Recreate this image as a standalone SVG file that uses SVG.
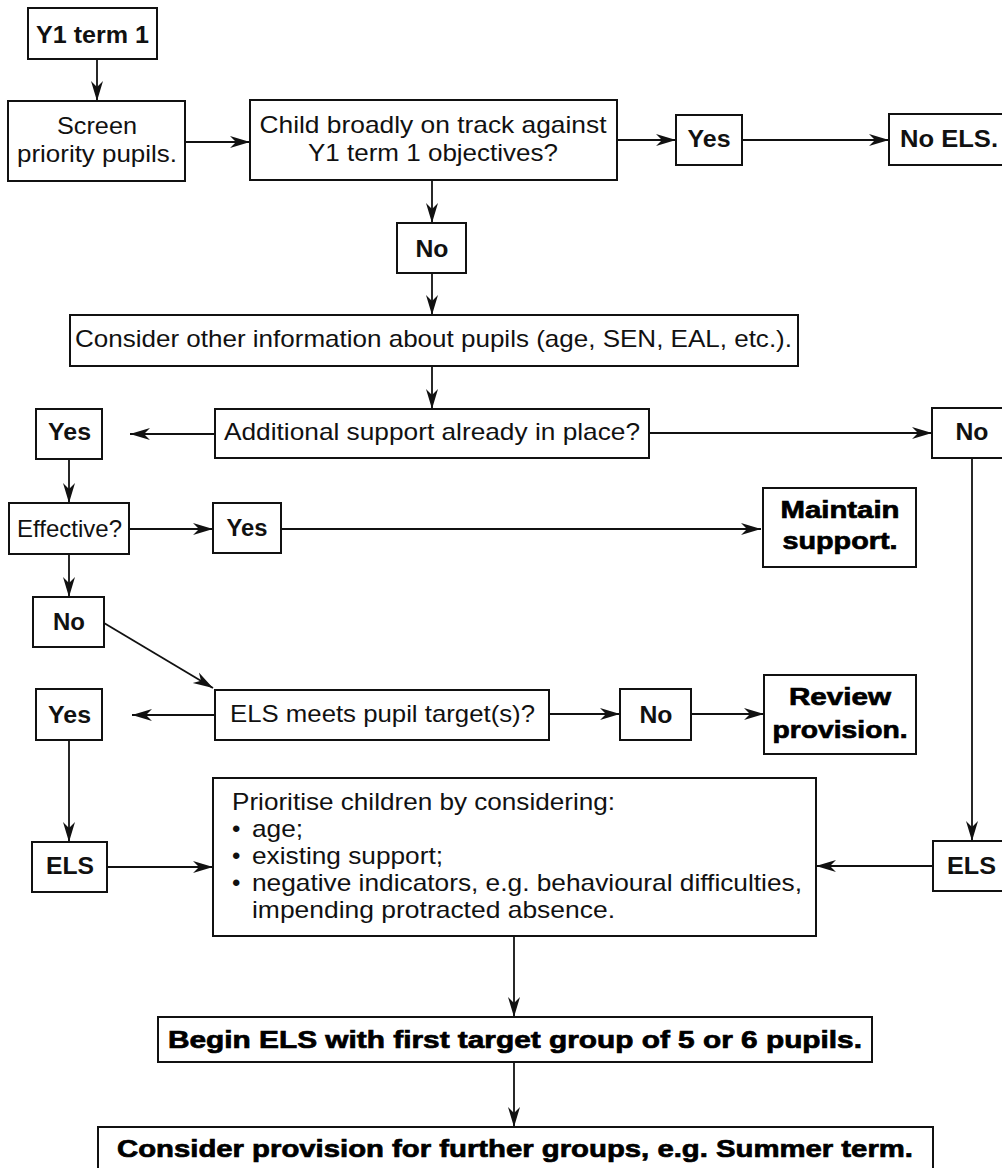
<svg xmlns="http://www.w3.org/2000/svg" width="1002" height="1168" viewBox="0 0 1002 1168">
<defs>
<style>
.box{fill:#fff;stroke:#111;stroke-width:2}
.ln{fill:none;stroke:#111;stroke-width:1.8}
.r{font-family:"Liberation Sans",Arial,sans-serif;font-size:24px;fill:#111}
.b{font-family:"Liberation Sans",Arial,sans-serif;font-size:23px;font-weight:bold;fill:#111}
.k{font-family:"Liberation Sans",Arial,sans-serif;font-size:24px;font-weight:bold;fill:#000;stroke:#000;stroke-width:0.7}
.c{text-anchor:middle}
</style>
<marker id="ah" markerUnits="userSpaceOnUse" markerWidth="22" markerHeight="14" refX="20" refY="7" orient="auto">
<path d="M0,1 L20,7 L0,13 L6,7 z" fill="#111"/>
</marker>
</defs>
<rect width="1002" height="1168" fill="#fff"/>

<g id="connectors" class="ln" marker-end="url(#ah)">
<line x1="97" y1="59" x2="97" y2="101"/>
<line x1="185" y1="142" x2="250" y2="142"/>
<line x1="617" y1="140" x2="676" y2="140"/>
<line x1="742" y1="140" x2="889" y2="140"/>
<line x1="432" y1="180" x2="432" y2="223"/>
<line x1="432" y1="273" x2="432" y2="315"/>
<line x1="432" y1="366" x2="432" y2="409"/>
<line x1="215" y1="434" x2="130" y2="434"/>
<line x1="649" y1="433" x2="932" y2="433"/>
<line x1="69" y1="459" x2="69" y2="503"/>
<line x1="129" y1="529" x2="213" y2="529"/>
<line x1="281" y1="529" x2="761" y2="529"/>
<line x1="69" y1="554" x2="69" y2="597"/>
<line x1="104" y1="623" x2="213" y2="688"/>
<line x1="215" y1="715" x2="132" y2="715"/>
<line x1="549" y1="714" x2="620" y2="714"/>
<line x1="691" y1="714" x2="764" y2="714"/>
<line x1="69" y1="740" x2="69" y2="842"/>
<line x1="107" y1="867" x2="213" y2="867"/>
<line x1="972" y1="458" x2="972" y2="841"/>
<line x1="933" y1="866" x2="816" y2="866"/>
<line x1="514" y1="936" x2="514" y2="1017"/>
<line x1="514" y1="1062" x2="514" y2="1127"/>
</g>

<g id="n-y1term1"><rect class="box" x="28" y="8" width="129" height="51"/><text class="b c" x="92.5" y="43" textLength="113" lengthAdjust="spacingAndGlyphs">Y1 term 1</text></g>
<g id="n-screen"><rect class="box" x="8" y="101" width="177" height="80"/><text class="r c" x="97" y="134" textLength="80" lengthAdjust="spacingAndGlyphs">Screen</text><text class="r c" x="97" y="162" textLength="160" lengthAdjust="spacingAndGlyphs">priority pupils.</text></g>
<g id="n-ontrack"><rect class="box" x="250" y="100" width="367" height="80"/><text class="r c" x="433" y="133" textLength="347" lengthAdjust="spacingAndGlyphs">Child broadly on track against</text><text class="r c" x="433" y="161" textLength="250" lengthAdjust="spacingAndGlyphs">Y1 term 1 objectives?</text></g>
<g id="n-yes1"><rect class="box" x="676" y="115" width="66" height="50"/><text class="b c" x="709" y="147" textLength="43" lengthAdjust="spacingAndGlyphs">Yes</text></g>
<g id="n-noels"><rect class="box" x="889" y="114" width="125" height="51"/><text class="b" x="900" y="147" textLength="98" lengthAdjust="spacingAndGlyphs">No ELS.</text></g>
<g id="n-no1"><rect class="box" x="397" y="223" width="69" height="50"/><text class="b c" x="432" y="257" textLength="33" lengthAdjust="spacingAndGlyphs">No</text></g>
<g id="n-consider"><rect class="box" x="70" y="315" width="728" height="51"/><text class="r c" x="433.5" y="347" textLength="717" lengthAdjust="spacingAndGlyphs">Consider other information about pupils (age, SEN, EAL, etc.).</text></g>
<g id="n-additional"><rect class="box" x="215" y="409" width="434" height="49"/><text class="r c" x="432" y="440" textLength="416" lengthAdjust="spacingAndGlyphs">Additional support already in place?</text></g>
<g id="n-yes2"><rect class="box" x="36" y="409" width="66" height="50"/><text class="b c" x="69.5" y="440" textLength="43" lengthAdjust="spacingAndGlyphs">Yes</text></g>
<g id="n-no2"><rect class="box" x="932" y="408" width="82" height="50"/><text class="b c" x="972" y="440" textLength="33" lengthAdjust="spacingAndGlyphs">No</text></g>
<g id="n-effective"><rect class="box" x="9" y="503" width="120" height="51"/><text class="r c" x="69.5" y="537" textLength="105" lengthAdjust="spacingAndGlyphs">Effective?</text></g>
<g id="n-yes3"><rect class="box" x="213" y="503" width="68" height="50"/><text class="b c" x="247" y="536" textLength="41" lengthAdjust="spacingAndGlyphs">Yes</text></g>
<g id="n-maintain"><rect class="box" x="763" y="488" width="153" height="79"/><text class="k c" x="840" y="518" textLength="119" lengthAdjust="spacingAndGlyphs">Maintain</text><text class="k c" x="840" y="549" textLength="115" lengthAdjust="spacingAndGlyphs">support.</text></g>
<g id="n-no3"><rect class="box" x="33" y="597" width="71" height="50"/><text class="b c" x="69" y="630" textLength="32" lengthAdjust="spacingAndGlyphs">No</text></g>
<g id="n-elsmeets"><rect class="box" x="215" y="690" width="334" height="50"/><text class="r c" x="382.5" y="722" textLength="305" lengthAdjust="spacingAndGlyphs">ELS meets pupil target(s)?</text></g>
<g id="n-yes4"><rect class="box" x="36" y="689" width="66" height="51"/><text class="b c" x="69.5" y="723" textLength="43" lengthAdjust="spacingAndGlyphs">Yes</text></g>
<g id="n-no4"><rect class="box" x="620" y="689" width="71" height="51"/><text class="b c" x="656" y="723" textLength="33" lengthAdjust="spacingAndGlyphs">No</text></g>
<g id="n-review"><rect class="box" x="764" y="675" width="152" height="79"/><text class="k c" x="840" y="705" textLength="102" lengthAdjust="spacingAndGlyphs">Review</text><text class="k c" x="840" y="738" textLength="135" lengthAdjust="spacingAndGlyphs">provision.</text></g>
<g id="n-els1"><rect class="box" x="32" y="842" width="75" height="50"/><text class="b c" x="70" y="874" textLength="48" lengthAdjust="spacingAndGlyphs">ELS</text></g>
<g id="n-els2"><rect class="box" x="933" y="841" width="81" height="50"/><text class="b c" x="971.5" y="874" textLength="49" lengthAdjust="spacingAndGlyphs">ELS</text></g>
<g id="n-prioritise"><rect class="box" x="213" y="778" width="603" height="158"/>
<text class="r" x="232" y="810" textLength="383" lengthAdjust="spacingAndGlyphs">Prioritise children by considering:</text>
<text class="r" x="232" y="837">•</text><text class="r" x="252" y="837" textLength="51" lengthAdjust="spacingAndGlyphs">age;</text>
<text class="r" x="232" y="864">•</text><text class="r" x="252" y="864" textLength="191" lengthAdjust="spacingAndGlyphs">existing support;</text>
<text class="r" x="232" y="891">•</text><text class="r" x="252" y="891" textLength="550" lengthAdjust="spacingAndGlyphs">negative indicators, e.g. behavioural difficulties,</text>
<text class="r" x="252" y="918" textLength="363" lengthAdjust="spacingAndGlyphs">impending protracted absence.</text>
</g>
<g id="n-begin"><rect class="box" x="158" y="1017" width="714" height="45"/><text class="k c" x="515" y="1048" textLength="694" lengthAdjust="spacingAndGlyphs">Begin ELS with first target group of 5 or 6 pupils.</text></g>
<g id="n-further"><rect class="box" x="98" y="1127" width="835" height="60"/><text class="k c" x="515" y="1157" textLength="796" lengthAdjust="spacingAndGlyphs">Consider provision for further groups, e.g. Summer term.</text></g>
</svg>
